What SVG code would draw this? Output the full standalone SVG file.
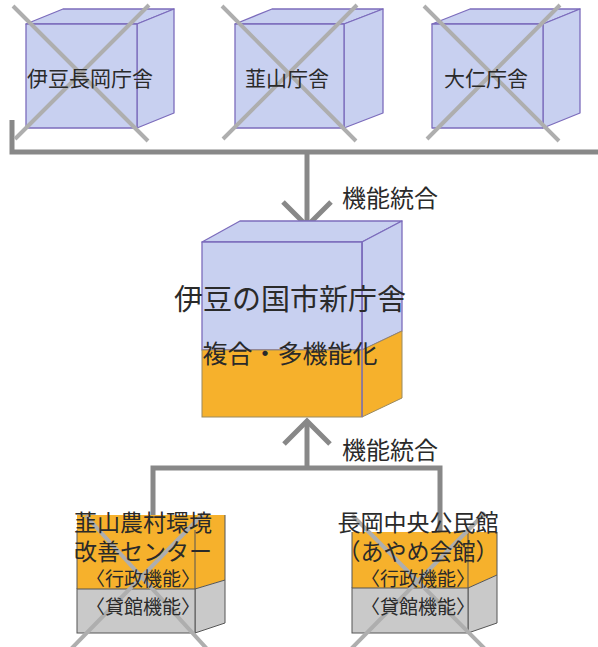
<svg xmlns="http://www.w3.org/2000/svg" width="598" height="647" viewBox="0 0 598 647">
<style>
.blue{fill:#c8d0f0;stroke:#7c6cbc;stroke-width:1.3;stroke-linejoin:round}
.org{fill:#f6b12c;stroke:#9a8a60;stroke-width:1}
.gry{fill:#c9c9c9;stroke:#555;stroke-width:1}
.edge{fill:none;stroke:#555;stroke-width:1}
.x{stroke:#aeaeae;stroke-width:4;fill:none}
.conn{stroke:#888;stroke-width:5;fill:none}
text{font-family:"Noto Sans CJK JP","Noto Sans",sans-serif;fill:#2a2a2a;text-anchor:middle;dominant-baseline:central}
</style>
<g id="connectors">
<path class="conn" d="M12,120 V152 H598"/>
<path class="conn" d="M307,152 V226"/>
<path class="conn" d="M283,202 L307,226 L331,202"/>
<path class="conn" d="M153,515 V468 H440 V532"/>
<path class="conn" d="M307,468 V423"/>
<path class="conn" d="M284,444 L307,421 L330,444"/>
<text x="390" y="196" font-size="24">機能統合</text>
<text x="390" y="448" font-size="24">機能統合</text>
</g>
<g id="izunagaoka">
<polygon class="blue" points="26,24 63,9 174,9 137,24"/>
<polygon class="blue" points="137,24 174,9 174,113 137,128"/>
<rect class="blue" x="26" y="24" width="111" height="104"/>
<path class="x" d="M13,6 L148,141 M149,5 L15,139"/>
<text x="90" y="77" font-size="21">伊豆長岡庁舎</text>
</g>
<g id="nirayama">
<polygon class="blue" points="235,24 272,9 383,9 344,24"/>
<polygon class="blue" points="344,24 383,9 383,113 344,128"/>
<rect class="blue" x="235" y="24" width="109" height="104"/>
<path class="x" d="M222,6 L356,141 M357,5 L223,139"/>
<text x="287" y="77" font-size="21">韮山庁舎</text>
</g>
<g id="ohito">
<polygon class="blue" points="432,24 470,9 580,9 543,24"/>
<polygon class="blue" points="543,24 580,9 580,113 543,128"/>
<rect class="blue" x="432" y="24" width="111" height="104"/>
<path class="x" d="M424,6 L559,141 M560,5 L427,139"/>
<text x="486" y="77" font-size="21">大仁庁舎</text>
</g>
<g id="newhall">
<polygon class="blue" points="202,242 240,221 402,221 362,242"/>
<polygon class="blue" points="362,242 402,221 402,331 362,350"/>
<polygon class="org" points="362,350 402,331 402,398 362,417"/>
<rect class="blue" x="202" y="242" width="160" height="108"/>
<rect class="org" x="202" y="350" width="160" height="67"/>
<line x1="362" y1="242" x2="362" y2="417" stroke="#7c6cbc" stroke-width="1.3"/>
<text x="290" y="297" font-size="29">伊豆の国市新庁舎</text>
<text x="290" y="352" font-size="25">複合・多機能化</text>
</g>
<g id="nirayama-center">
<polygon fill="#f6b12c" points="77,515 225,515 225,580 195,589 77,589"/>
<polygon class="gry" points="195,589 225,580 225,623 195,633"/>
<rect class="gry" x="77" y="589" width="118" height="44"/>
<path class="edge" d="M195,530 V589 M225,515 V580 M77,530 V589"/>
<path class="x" d="M70,650 L203,514 M208,650 L86,516"/>
<text x="143" y="521" font-size="23">韮山農村環境</text>
<text x="143" y="550" font-size="23">改善センター</text>
<text x="143" y="577" font-size="19">〈行政機能〉</text>
<text x="143" y="605" font-size="19">〈貸館機能〉</text>
</g>
<g id="ayame-hall">
<polygon fill="#f6b12c" points="352,532 497,532 497,575 468,588 352,588"/>
<polygon class="gry" points="468,588 497,575 497,623 468,633"/>
<rect class="gry" x="352" y="588" width="116" height="45"/>
<path class="edge" d="M468,532 V588 M497,532 V575 M352,532 V588"/>
<path class="x" d="M350,650 L485,513 M486,650 L352,515"/>
<text x="418" y="521" font-size="23">長岡中央公民館</text>
<text x="418" y="550" font-size="23">（あやめ会館）</text>
<text x="418" y="577" font-size="19">〈行政機能〉</text>
<text x="418" y="605" font-size="19">〈貸館機能〉</text>
</g>
</svg>
